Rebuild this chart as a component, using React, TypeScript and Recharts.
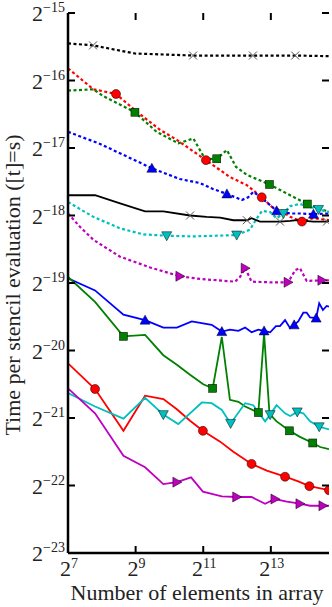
import React from "react";
import { LineChart, Line, XAxis, YAxis } from "recharts";

// points are [log2(n), log2(seconds), marker?]
type Pt = [number, number, number?];

const xTicks = [7, 9, 11, 13];
const yTicks = [-23, -22, -21, -20, -19, -18, -17, -16, -15];

const blackDotted: Pt[] = [
  [7.0, -15.45], [7.74, -15.48, 1], [8.98, -15.6], [10.7, -15.63, 1],
  [12.47, -15.63, 1], [13.72, -15.63, 1], [14.72, -15.64],
];
const redDotted: Pt[] = [
  [7.0, -15.82], [7.75, -16.13], [8.42, -16.2, 1], [8.98, -16.44], [9.72, -16.73],
  [10.22, -16.88], [11.08, -17.18, 1], [11.79, -17.43], [12.29, -17.55],
  [12.73, -17.73, 1], [13.03, -17.87], [13.27, -17.92], [13.57, -18.02],
  [13.92, -18.09, 1], [14.25, -18.04], [14.72, -18.07],
];
const greenDotted: Pt[] = [
  [7.0, -16.15], [7.75, -16.13], [8.04, -16.23], [8.98, -16.47, 1], [9.33, -16.63],
  [9.62, -16.76], [10.26, -16.93], [10.71, -16.86], [11.05, -17.16], [11.4, -17.16, 1],
  [11.7, -17.03], [11.97, -17.28], [12.3, -17.4], [12.96, -17.54, 1], [13.57, -17.7],
  [14.08, -17.83, 1], [14.55, -17.92], [14.72, -17.94],
];
const blueDotted: Pt[] = [
  [7.0, -16.76], [7.95, -16.94], [9.48, -17.3, 1], [10.31, -17.46], [10.91, -17.52],
  [11.3, -17.61], [11.7, -17.68, 1], [12.14, -17.77], [12.33, -17.73], [12.48, -17.65],
  [12.68, -17.72], [13.17, -17.93, 1], [13.57, -17.97], [13.86, -17.97],
  [14.26, -17.98, 1], [14.72, -17.97],
];
const cyanDotted: Pt[] = [
  [7.0, -17.8], [7.75, -18.02], [8.54, -18.19], [9.23, -18.28], [9.92, -18.3, 1],
  [10.71, -18.31], [11.99, -18.29, 1], [12.38, -18.21], [12.59, -18.04], [12.74, -17.93],
  [12.98, -17.95], [13.17, -18.04], [13.37, -17.97, 1], [13.57, -17.86], [13.86, -17.83],
  [14.41, -17.91, 1], [14.72, -17.95],
];
const magentaDotted: Pt[] = [
  [7.0, -17.97], [7.36, -18.17], [7.75, -18.36], [8.54, -18.61], [9.43, -18.77],
  [10.31, -18.9, 1], [10.91, -18.94], [11.94, -18.98], [12.09, -18.91], [12.24, -18.78, 1],
  [12.43, -18.98], [12.98, -18.99], [13.51, -18.99, 1], [13.72, -18.81], [13.86, -18.78],
  [14.06, -18.97], [14.51, -18.96, 1], [14.72, -18.96],
];

const blackSolid: Pt[] = [
  [7.0, -17.7], [7.8, -17.7], [8.54, -17.82], [9.28, -17.94], [9.82, -17.94],
  [10.61, -18.0, 1], [11.1, -18.02], [11.5, -18.03], [11.89, -18.07], [12.29, -18.07, 1],
  [12.43, -18.04], [12.68, -18.09], [13.27, -18.09, 1], [13.57, -18.08], [13.77, -18.07],
  [14.26, -18.09], [14.66, -18.09, 1], [14.72, -18.08],
];
const blueSolid: Pt[] = [
  [7.0, -18.93], [7.8, -19.11], [8.64, -19.47], [9.28, -19.55, 1], [9.82, -19.66],
  [10.22, -19.66], [10.66, -19.57], [11.25, -19.62], [11.55, -19.72, 1], [11.79, -19.69],
  [12.04, -19.71], [12.24, -19.66], [12.43, -19.73], [12.63, -19.69], [12.8, -19.71, 1],
  [12.98, -19.73], [13.15, -19.64], [13.27, -19.64], [13.42, -19.55], [13.57, -19.67],
  [13.69, -19.62, 1], [13.81, -19.57], [13.96, -19.44], [14.06, -19.44], [14.16, -19.51],
  [14.34, -19.52, 1], [14.43, -19.3], [14.54, -19.4], [14.65, -19.34], [14.72, -19.35],
];
const greenSolid: Pt[] = [
  [7.0, -18.91], [7.8, -19.28], [8.64, -19.79, 1], [9.28, -19.77], [9.82, -20.07],
  [10.22, -20.21], [10.61, -20.36], [11.0, -20.5], [11.28, -20.56, 1], [11.55, -19.8],
  [11.79, -20.73], [12.04, -20.76], [12.24, -20.83], [12.63, -20.92, 1], [12.8, -19.75],
  [12.96, -20.94], [13.17, -21.05], [13.55, -21.19, 1], [13.86, -21.28],
  [14.24, -21.37, 1], [14.46, -21.43], [14.72, -21.46],
];
const redSolid: Pt[] = [
  [7.0, -20.19], [7.8, -20.57, 1], [8.64, -21.19], [9.28, -20.67], [9.82, -20.72],
  [10.22, -20.87], [10.61, -21.04], [10.99, -21.19, 1], [11.5, -21.35], [11.89, -21.5],
  [12.43, -21.68, 1], [12.88, -21.78], [13.42, -21.87, 1], [13.81, -21.94],
  [14.14, -22.01, 1], [14.72, -22.07, 1],
];
const cyanSolid: Pt[] = [
  [7.0, -20.63], [7.8, -20.83], [8.64, -21.01], [9.28, -20.7], [9.82, -20.95, 1],
  [10.26, -21.09], [10.96, -20.77], [11.25, -20.78], [11.55, -20.88], [11.81, -21.08, 1],
  [12.24, -20.78], [12.48, -20.81], [12.83, -21.05], [12.98, -20.95, 1], [13.17, -20.81],
  [13.42, -20.93], [13.57, -20.97], [13.78, -20.91, 1], [13.96, -20.93], [14.16, -21.05],
  [14.43, -21.13, 1], [14.72, -21.17],
];
const magentaSolid: Pt[] = [
  [7.0, -20.56], [7.8, -20.93], [8.64, -21.56], [9.28, -21.73], [9.82, -21.98],
  [10.22, -21.95, 1], [10.64, -21.88], [10.99, -22.09], [11.55, -22.16], [11.99, -22.17, 1],
  [12.43, -22.17], [12.83, -22.27], [13.12, -22.2, 1], [13.47, -22.24], [13.86, -22.27, 1],
  [14.16, -22.3], [14.54, -22.3, 1], [14.72, -22.3],
];

const FONT = "'Liberation Serif', 'DejaVu Serif', serif";

// plot box edges (px), fixed by the chart margins and axis sizes below
const LEFT = 68;
const RIGHT = 329;
const TOP = 13;
const BOTTOM = 553;
const TICK = 7;

const series = [
  { id: "kd", pts: blackDotted, color: "#000000", dotted: true, shape: "x" },
  { id: "rd", pts: redDotted, color: "#ff0000", dotted: true, shape: "o" },
  { id: "gd", pts: greenDotted, color: "#008000", dotted: true, shape: "s" },
  { id: "bd", pts: blueDotted, color: "#0000ff", dotted: true, shape: "^" },
  { id: "cd", pts: cyanDotted, color: "#00bfbf", dotted: true, shape: "v" },
  { id: "md", pts: magentaDotted, color: "#bf00bf", dotted: true, shape: ">" },
  { id: "ks", pts: blackSolid, color: "#000000", dotted: false, shape: "x" },
  { id: "bs", pts: blueSolid, color: "#0000ff", dotted: false, shape: "^" },
  { id: "gs", pts: greenSolid, color: "#008000", dotted: false, shape: "s" },
  { id: "rs", pts: redSolid, color: "#ff0000", dotted: false, shape: "o" },
  { id: "cs", pts: cyanSolid, color: "#00bfbf", dotted: false, shape: "v" },
  { id: "ms", pts: magentaSolid, color: "#bf00bf", dotted: false, shape: ">" },
];

const toRows = (pts: Pt[]) => pts.map(([x, y, m]) => ({ x, y, m: m === 1 }));

const makeDot = (shape: string, fill: string) => (props: any) => {
  const { cx, cy, payload, index } = props;
  const key = `dot-${index}`;
  if (!payload || !payload.m || cx == null || cy == null) return <g key={key} />;
  const edge = { stroke: "#000", strokeWidth: 0.5, fill };
  if (shape === "o") return <circle key={key} cx={cx} cy={cy} r={4.5} {...edge} />;
  if (shape === "s")
    return <rect key={key} x={cx - 4} y={cy - 4} width={8} height={8} {...edge} />;
  if (shape === "^")
    return <polygon key={key} points={`${cx},${cy - 5} ${cx - 5},${cy + 4} ${cx + 5},${cy + 4}`} {...edge} />;
  if (shape === "v")
    return <polygon key={key} points={`${cx},${cy + 5} ${cx - 5},${cy - 4} ${cx + 5},${cy - 4}`} {...edge} />;
  if (shape === ">")
    return <polygon key={key} points={`${cx + 5},${cy} ${cx - 4},${cy - 5} ${cx - 4},${cy + 5}`} {...edge} />;
  return (
    <g key={key} stroke="#555" strokeWidth={1}>
      <line x1={cx - 4} y1={cy - 4} x2={cx + 4} y2={cy + 4} />
      <line x1={cx - 4} y1={cy + 4} x2={cx + 4} y2={cy - 4} />
    </g>
  );
};

// tick label plus inward tick marks on both sides of the box
const YTick = (props: any) => {
  const { payload } = props;
  const y = payload.coordinate ?? props.y;
  return (
    <g>
      <line x1={LEFT} y1={y} x2={LEFT + TICK} y2={y} stroke="#000" strokeWidth={2} />
      <line x1={RIGHT} y1={y} x2={RIGHT - TICK} y2={y} stroke="#000" strokeWidth={2} />
      <text x={65} y={y + 8} textAnchor="end" fontFamily={FONT} fontSize={22} fill="#222">
        2<tspan dy={-9} fontSize={14}>{`\u2212${-payload.value}`}</tspan>
      </text>
    </g>
  );
};

const XTick = (props: any) => {
  const { payload } = props;
  const x = payload.coordinate ?? props.x;
  return (
    <g>
      <line x1={x} y1={BOTTOM} x2={x} y2={BOTTOM - TICK} stroke="#000" strokeWidth={2} />
      <line x1={x} y1={TOP} x2={x} y2={TOP + TICK} stroke="#000" strokeWidth={2} />
      <text x={x + 1} y={576} textAnchor="middle" fontFamily={FONT} fontSize={22} fill="#222">
        2<tspan dy={-8} fontSize={14}>{payload.value}</tspan>
      </text>
    </g>
  );
};

const XTitle = () => (
  <text x={197} y={600} textAnchor="middle" fontFamily={FONT} fontSize={22} fill="#222">
    Number of elements in array
  </text>
);

const YTitle = () => (
  <text
    x={20}
    y={285}
    transform="rotate(-90, 20, 285)"
    textAnchor="middle"
    fontFamily={FONT}
    fontSize={22}
    fill="#222"
  >
    Time per stencil evaluation ([t]=s)
  </text>
);

const frame = { stroke: "#000", strokeWidth: 2.5 };

export default function App() {
  return (
    <div style={{ position: "absolute", left: 0, top: 0, background: "#fff" }}>
      <LineChart width={332} height={607} margin={{ top: TOP, right: 332 - RIGHT, left: 0, bottom: 0 }}>
        <XAxis
          type="number"
          dataKey="x"
          domain={[7, 14.72]}
          ticks={xTicks}
          allowDataOverflow
          height={607 - BOTTOM}
          axisLine={frame}
          tickLine={false}
          tick={<XTick />}
          label={<XTitle />}
        />
        <XAxis
          xAxisId="top"
          orientation="top"
          type="number"
          dataKey="x"
          domain={[7, 14.72]}
          ticks={xTicks}
          allowDataOverflow
          height={0}
          axisLine={frame}
          tickLine={false}
          tick={false}
        />
        <YAxis
          type="number"
          domain={[-23, -15]}
          ticks={yTicks}
          allowDataOverflow
          width={LEFT}
          axisLine={frame}
          tickLine={false}
          tick={<YTick />}
          label={<YTitle />}
        />
        <YAxis
          yAxisId="right"
          orientation="right"
          type="number"
          domain={[-23, -15]}
          ticks={yTicks}
          allowDataOverflow
          width={0}
          axisLine={frame}
          tickLine={false}
          tick={false}
        />
        {series.map((s) => (
          <Line
            key={s.id}
            data={toRows(s.pts)}
            dataKey="y"
            type="linear"
            stroke={s.color}
            strokeWidth={s.dotted ? 2.2 : 1.8}
            strokeDasharray={s.dotted ? "3 2.5" : undefined}
            dot={makeDot(s.shape, s.color)}
            activeDot={false}
            isAnimationActive={false}
          />
        ))}
      </LineChart>
    </div>
  );
}
